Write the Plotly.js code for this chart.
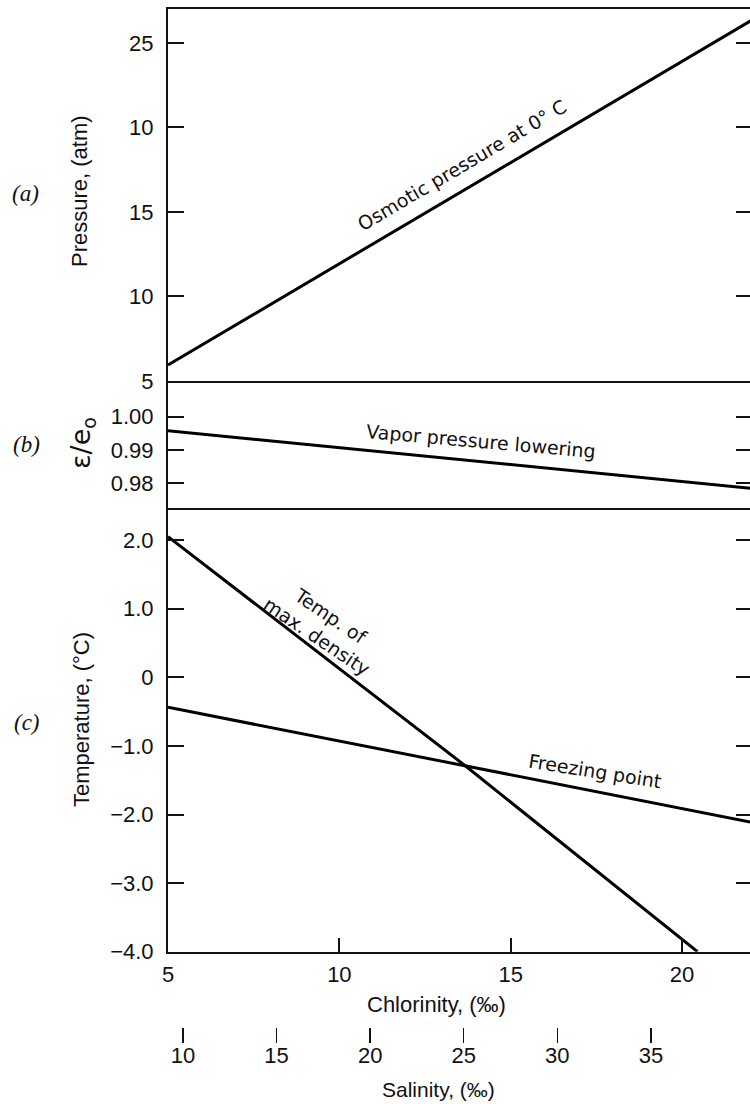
<!DOCTYPE html>
<html>
<head>
<meta charset="utf-8">
<script src="https://cdn.plot.ly/plotly-3.0.1.min.js"></script>
<style>
html,body{margin:0;padding:0;overflow:hidden;background:#fff;}
#chart{width:760px;height:1104px;}
</style>
</head>
<body>
<div id="chart"></div>
<script>
// ---- data ----
const osmoticCl = [5, 22];
const osmoticAtm = [5.95, 26.3];

const vaporCl = [5, 22];
const vaporRatio = [0.9958, 0.9785];

const maxDensityCl = [5, 13.7, 20.45];
const maxDensityT = [2.05, -1.30, -4.0];

const freezingCl = [5, 22];
const freezingT = [-0.437, -2.11];

const pressureTicks = [5, 10, 15, 20, 25];
const pressureLabels = ['5', '10', '15', '10', '25'];
const ratioTicks = [0.98, 0.99, 1.00];
const ratioLabels = ['0.98', '0.99', '1.00'];
const tempTicks = [2, 1, 0, -1, -2, -3, -4];
const tempLabels = ['2.0', '1.0', '0', '\u22121.0', '\u22122.0', '\u22123.0', '\u22124.0'];
const chlorTicks = [5, 10, 15, 20];
const chlorLabels = ['5', '10', '15', '20'];
const salTicks = [10, 15, 20, 25, 30, 35];
const salLabels = ['10', '15', '20', '25', '30', '35'];

// ---- layout ----
const W = 760, H = 1104;
const px = v => v / W;
const py = v => 1 - v / H;
const xDom = [px(168), px(752)];
const tickFont = {family: 'Liberation Sans, Arial, sans-serif', size: 22, color: '#111'};
const lineStyle = {color: '#000', width: 3};

const xBase = {
  domain: xDom, range: [5, 22.04], showline: true, linecolor: '#111', linewidth: 2,
  mirror: false, showgrid: false, zeroline: false, ticks: '', showticklabels: false, fixedrange: true
};
const yBase = {
  showline: true, linecolor: '#111', linewidth: 2, mirror: 'ticks', showgrid: false,
  zeroline: false, ticks: 'inside', ticklen: 16, tickwidth: 2, tickcolor: '#111',
  tickfont: tickFont, ticklabelstandoff: 8, tickmode: 'array', fixedrange: true
};

const traces = [
  {x: osmoticCl, y: osmoticAtm, xaxis: 'x', yaxis: 'y', mode: 'lines', line: lineStyle, hoverinfo: 'skip'},
  {x: vaporCl, y: vaporRatio, xaxis: 'x2', yaxis: 'y2', mode: 'lines', line: lineStyle, hoverinfo: 'skip'},
  {x: maxDensityCl, y: maxDensityT, xaxis: 'x3', yaxis: 'y3', mode: 'lines', line: lineStyle, hoverinfo: 'skip'},
  {x: freezingCl, y: freezingT, xaxis: 'x3', yaxis: 'y3', mode: 'lines', line: lineStyle, hoverinfo: 'skip'},
  // invisible helper so the salinity axis is drawn
  {x: salTicks, y: salTicks.map(() => null), xaxis: 'x4', yaxis: 'y3', mode: 'none', hoverinfo: 'skip', showlegend: false}
];

const labelFont = {family: 'Liberation Sans, Arial, sans-serif', size: 22, color: '#111'};
const inFont = {family: 'DejaVu Sans, Verdana, sans-serif', size: 19, color: '#111'};
const panelFont = {family: 'Liberation Serif, Times New Roman, serif', size: 23, color: '#111'};

function paperText(text, x, y, font, angle) {
  return {text: text, xref: 'paper', yref: 'paper', x: px(x), y: py(y),
          xanchor: 'center', yanchor: 'middle', showarrow: false, font: font, textangle: angle || 0};
}

const annotations = [
  paperText('<i>(a)</i>', 25, 193, panelFont),
  paperText('<i>(b)</i>', 26, 445, panelFont),
  paperText('<i>(c)</i>', 27, 722, panelFont),
  paperText('Pressure, (atm)', 80, 191, labelFont, -90),
  paperText('\u03b5/e<sub>o</sub>', 82, 443, {family: 'DejaVu Sans, sans-serif', size: 27, color: '#111'}, -90),
  paperText('Temperature, (\u00b0C)', 81, 720, labelFont, -90),
  paperText('Chlorinity, (\u2030)', 436, 1004, labelFont),
  paperText('Salinity, (\u2030)', 438, 1089, {family: 'Liberation Sans, Arial, sans-serif', size: 21, color: '#111'}),
  {text: 'Osmotic pressure at 0\u00b0 C', xref: 'x', yref: 'y', x: 13.58, y: 17.75,
   showarrow: false, textangle: -30.5, font: inFont},
  {text: 'Vapor pressure lowering', xref: 'x2', yref: 'y2', x: 14.13, y: 0.9927,
   showarrow: false, textangle: 5, font: inFont},
  {text: 'Temp. of<br>max. density', xref: 'x3', yref: 'y3', x: 9.55, y: 0.74,
   showarrow: false, textangle: 34, font: inFont},
  {text: 'Freezing point', xref: 'x3', yref: 'y3', x: 17.46, y: -1.36,
   showarrow: false, textangle: 9, font: inFont}
];

const layout = {
  width: W, height: H,
  margin: {l: 0, r: 0, t: 0, b: 0, pad: 0},
  paper_bgcolor: '#fff', plot_bgcolor: '#fff',
  showlegend: false,
  xaxis: Object.assign({}, xBase, {anchor: 'y', mirror: true}),
  xaxis2: Object.assign({}, xBase, {anchor: 'y2'}),
  xaxis3: Object.assign({}, xBase, {anchor: 'y3', ticks: 'inside', ticklen: 14, tickwidth: 2, tickcolor: '#111',
    showticklabels: true, tickmode: 'array', tickvals: chlorTicks, ticktext: chlorLabels,
    tickfont: tickFont, ticklabelstandoff: 2}),
  xaxis4: {overlaying: 'x3', anchor: 'free', position: py(1027), side: 'bottom', domain: xDom,
    range: [9.2, 40.4], showline: false, showgrid: false, zeroline: false,
    ticks: 'outside', ticklen: 15, tickwidth: 1.5, tickcolor: '#111',
    tickmode: 'array', tickvals: salTicks, ticktext: salLabels, tickfont: tickFont,
    ticklabelstandoff: -6, fixedrange: true},
  yaxis: Object.assign({}, yBase, {anchor: 'x', domain: [py(381), py(9)], range: [5, 27.0],
    tickvals: pressureTicks, ticktext: pressureLabels}),
  yaxis2: Object.assign({}, yBase, {anchor: 'x2', domain: [py(507.5), py(381)], range: [0.97274, 1.01072],
    tickvals: ratioTicks, ticktext: ratioLabels}),
  yaxis3: Object.assign({}, yBase, {anchor: 'x3', domain: [py(951.7), py(507.5)], range: [-4, 2.475],
    tickvals: tempTicks, ticktext: tempLabels}),
  annotations: annotations
};

Plotly.newPlot('chart', traces, layout, {staticPlot: true, displayModeBar: false});
</script>
</body>
</html>
